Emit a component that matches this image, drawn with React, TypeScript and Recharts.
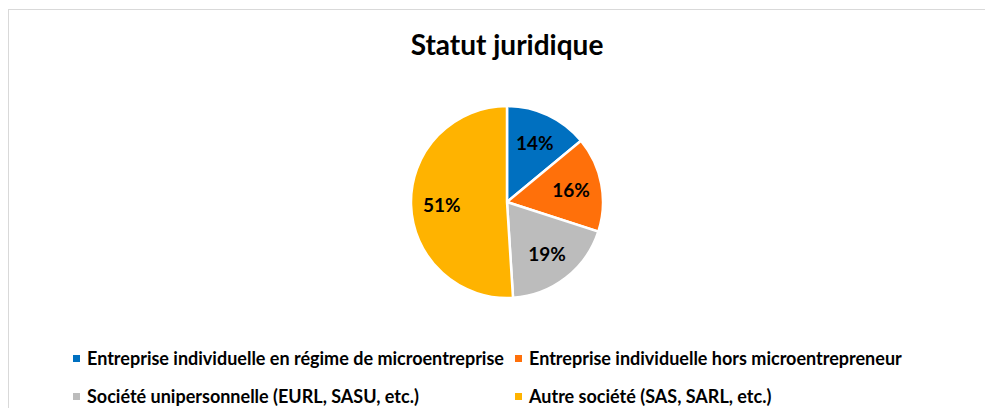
import React from "react";
import { PieChart, Pie, Cell, Legend } from "recharts";

const categories = [
  "Entreprise individuelle en régime de microentreprise",
  "Entreprise individuelle hors microentrepreneur",
  "Société unipersonnelle (EURL, SASU, etc.)",
  "Autre société (SAS, SARL, etc.)",
];
const shares = [14, 16, 19, 51];
const colors = ["#0070C0", "#FF700A", "#BCBCBC", "#FFB300"];

const data = categories.map((name, i) => ({ name, value: shares[i] }));

const FONT = "Lato, 'Open Sans', sans-serif";

const RADIAN = Math.PI / 180;

const renderLabel = ({ cx, cy, midAngle, outerRadius, value }: any) => {
  const r = outerRadius * 0.68;
  const x = cx + r * Math.cos(-midAngle * RADIAN);
  const y = cy + r * Math.sin(-midAngle * RADIAN);
  return (
    <text
      x={x}
      y={y}
      fill="#000"
      textAnchor="middle"
      dominantBaseline="central"
      fontFamily={FONT}
      fontWeight={700}
      fontSize={19}
    >
      {`${value}%`}
    </text>
  );
};

const CustomLegend = () => {
  return (
    <div
      style={{
        display: "grid",
        gridTemplateColumns: "442px 442px",
        rowGap: 18,
        fontFamily: FONT,
        fontWeight: 700,
        fontSize: 18,
        lineHeight: "20px",
        color: "#000",
      }}
    >
      {data.map((d, i) => (
        <div key={d.name} style={{ display: "flex", alignItems: "center", height: 20, whiteSpace: "nowrap" }}>
          <span
            style={{
              display: "inline-block",
              width: 7,
              height: 7,
              background: colors[i],
              marginRight: 7,
              flexShrink: 0,
            }}
          />
          {d.name}
        </div>
      ))}
    </div>
  );
};

export default function App() {
  return (
    <div style={{ paddingTop: 1 }}>
      <div
        style={{
          position: "relative",
          width: 984,
          height: 398,
          borderTop: "1px solid #D9D9D9",
          borderLeft: "1px solid #D9D9D9",
          background: "#fff",
          overflow: "hidden",
        }}
      >
        <div
          style={{
            position: "absolute",
            top: 17,
            left: 0,
            width: 996,
            textAlign: "center",
            fontFamily: FONT,
            fontWeight: 700,
            fontSize: 28,
            color: "#000",
          }}
        >
          Statut juridique
        </div>
        <PieChart width={984} height={398} margin={{ top: 0, right: 0, bottom: 0, left: 0 }}>
          <Pie
            data={data}
            dataKey="value"
            nameKey="name"
            cx={498}
            cy={192}
            outerRadius={96}
            startAngle={90}
            endAngle={-270}
            stroke="#fff"
            strokeWidth={2.5}
            label={renderLabel}
            labelLine={false}
            isAnimationActive={false}
          >
            {data.map((d, i) => (
              <Cell key={d.name} fill={colors[i]} />
            ))}
          </Pie>
          <Legend
            content={<CustomLegend />}
            wrapperStyle={{ position: "absolute", top: 338, left: 64, width: 900 }}
          />
        </PieChart>
      </div>
    </div>
  );
}
